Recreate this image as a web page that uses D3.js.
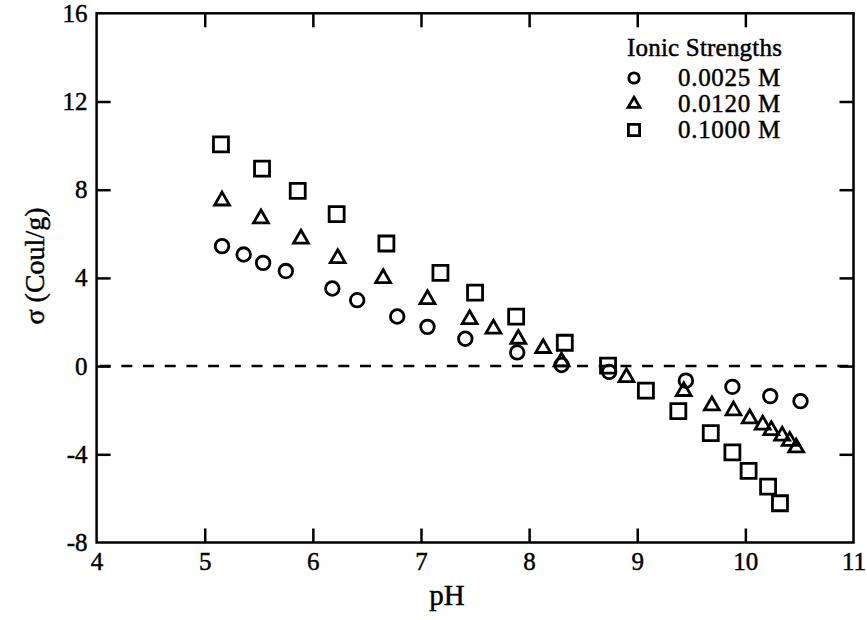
<!DOCTYPE html>
<html>
<head>
<meta charset="utf-8">
<script src="https://cdn.jsdelivr.net/npm/d3@7"></script>
<style>
  html, body { margin: 0; padding: 0; background: #fff; }
  svg { display: block; }
  text { font-family: "Liberation Serif", "Times New Roman", serif; fill: #000; stroke: #000; stroke-width: 0.45px; }
</style>
</head>
<body>
<svg id="chart" width="867" height="620"></svg>
<script>
// Surface charge density vs pH at three ionic strengths
const xTicks = [4, 5, 6, 7, 8, 9, 10, 11];
const yTicks = [-8, -4, 0, 4, 8, 12, 16];

const seriesNames = ["0.0025 M", "0.0120 M", "0.1000 M"];
const legendTitle = "Ionic Strengths";

const pH_0025 = [5.16, 5.36, 5.54, 5.75, 6.18, 6.41, 6.78, 7.06, 7.41, 7.89, 8.30, 8.74, 9.45, 9.88, 10.23, 10.51];
const sigma_0025 = [5.44, 5.06, 4.68, 4.31, 3.52, 2.99, 2.25, 1.78, 1.24, 0.62, 0.05, -0.26, -0.66, -0.94, -1.36, -1.59];

const pH_0120 = [5.16, 5.52, 5.89, 6.23, 6.65, 7.06, 7.45, 7.67, 7.90, 8.13, 8.30, 8.90, 9.43, 9.69, 9.89, 10.04, 10.16, 10.24, 10.34, 10.41, 10.47];
const sigma_0120 = [7.50, 6.69, 5.77, 4.89, 3.98, 3.03, 2.12, 1.69, 1.23, 0.81, 0.20, -0.51, -1.14, -1.79, -2.02, -2.38, -2.66, -2.91, -3.16, -3.40, -3.70];

const pH_1000 = [5.15, 5.53, 5.86, 6.22, 6.68, 7.18, 7.50, 7.88, 8.33, 8.73, 9.08, 9.38, 9.68, 9.88, 10.03, 10.21, 10.32];
const sigma_1000 = [10.06, 8.96, 7.95, 6.89, 5.56, 4.23, 3.33, 2.24, 1.06, 0.02, -1.11, -2.04, -3.04, -3.91, -4.75, -5.47, -6.22];

const svg = d3.select("#chart");
const plotLeft = 96.6, plotRight = 853.5, plotTop = 13.3, plotBottom = 542.5;

const x = d3.scaleLinear().domain([4, 11]).range([plotLeft, plotRight]);
const y = d3.scaleLinear().domain([-8, 16]).range([plotBottom, plotTop]);

const tickLen = 14;
const innerX = v => v !== 4 && v !== 11;
const innerY = v => v !== -8 && v !== 16;
const plainFormat = d => String(d);   // plain hyphen for negatives

function styleAxis(g, showFn) {
  g.select(".domain").remove();
  g.selectAll(".tick line").attr("stroke", "#000").attr("stroke-width", 2.5)
    .attr("display", d => showFn(d) ? null : "none");
}

// bottom axis with labels
svg.append("g").attr("transform", `translate(0,${plotBottom})`)
  .call(d3.axisBottom(x).tickValues(xTicks).tickSize(-tickLen).tickPadding(10).tickFormat(plainFormat))
  .call(g => styleAxis(g, innerX))
  .call(g => g.selectAll(".tick text").attr("font-size", 25));

// top axis (ticks only)
svg.append("g").attr("transform", `translate(0,${plotTop})`)
  .call(d3.axisTop(x).tickValues(xTicks).tickSize(-tickLen).tickFormat(""))
  .call(g => styleAxis(g, innerX));

// left axis with labels
svg.append("g").attr("transform", `translate(${plotLeft},0)`)
  .call(d3.axisLeft(y).tickValues(yTicks).tickSize(-tickLen).tickPadding(9).tickFormat(plainFormat))
  .call(g => styleAxis(g, innerY))
  .call(g => g.selectAll(".tick text").attr("font-size", 25));

// right axis (ticks only)
svg.append("g").attr("transform", `translate(${plotRight},0)`)
  .call(d3.axisRight(y).tickValues(yTicks).tickSize(-tickLen).tickFormat(""))
  .call(g => styleAxis(g, innerY));

// frame
svg.append("rect")
  .attr("x", plotLeft).attr("y", plotTop)
  .attr("width", plotRight - plotLeft).attr("height", plotBottom - plotTop)
  .attr("fill", "none").attr("stroke", "#000").attr("stroke-width", 2.5);

// zero reference line
svg.append("line")
  .attr("x1", x(4) + 3).attr("x2", x(11))
  .attr("y1", y(0)).attr("y2", y(0))
  .attr("stroke", "#000").attr("stroke-width", 2.5)
  .attr("stroke-dasharray", "11,10.7");

const markerStroke = 2.8;
const shapes = [
  { type: d3.symbolCircle, size: 145, legendSize: 85 },
  { type: d3.symbolTriangle, size: 95, legendSize: 60 },
  { type: d3.symbolSquare, size: 225, legendSize: 125 }
];
const seriesData = [
  d3.zip(pH_0025, sigma_0025),
  d3.zip(pH_0120, sigma_0120),
  d3.zip(pH_1000, sigma_1000)
];

seriesData.forEach((pts, i) => {
  const sym = d3.symbol().type(shapes[i].type).size(shapes[i].size);
  svg.append("g").selectAll("path")
    .data(pts)
    .join("path")
    .attr("d", sym)
    .attr("transform", d => `translate(${x(d[0])},${y(d[1])})`)
    .attr("fill", "none")
    .attr("stroke", "#000")
    .attr("stroke-width", markerStroke);
});

// legend
const legend = svg.append("g");
legend.append("text")
  .attr("x", 627).attr("y", 56)
  .attr("font-size", 25).attr("letter-spacing", 0.2)
  .text(legendTitle);

seriesNames.forEach((name, i) => {
  const cy = 78 + i * 26;
  legend.append("path")
    .attr("d", d3.symbol().type(shapes[i].type).size(shapes[i].legendSize))
    .attr("transform", `translate(634,${cy})`)
    .attr("fill", "none").attr("stroke", "#000").attr("stroke-width", 2.8);
  legend.append("text")
    .attr("x", 678).attr("y", cy + 8)
    .attr("font-size", 25).attr("letter-spacing", 0.7)
    .text(name);
});

// axis titles
svg.append("text")
  .attr("x", 447).attr("y", 605)
  .attr("text-anchor", "middle")
  .attr("font-size", 29)
  .text("pH");

svg.append("text")
  .attr("transform", `translate(44,266) rotate(-90)`)
  .attr("text-anchor", "middle")
  .attr("font-size", 28)
  .text("σ  (Coul/g)");
</script>
</body>
</html>
